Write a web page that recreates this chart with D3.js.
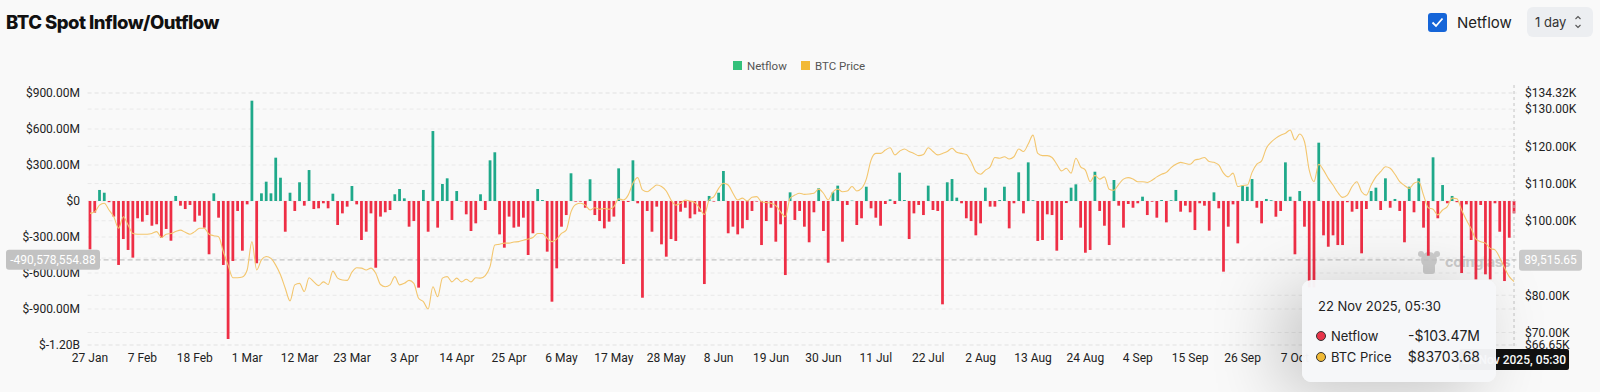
<!DOCTYPE html>
<html>
<head>
<meta charset="utf-8">
<script src="https://cdn.jsdelivr.net/npm/d3@7"></script>
<style>
  html, body { margin: 0; padding: 0; background: #f9f9f9; }
  body { width: 1600px; height: 392px; overflow: hidden; position: relative; font-family: Roboto, "Noto Sans", sans-serif; }
  #tip {
    position: absolute; left: 1302px; top: 280px; width: 194px; height: 102px;
    background: rgba(246, 247, 249, 0.97); border-radius: 9px;
    box-shadow: -20px 10px 70px rgba(0, 0, 0, 0.22);
    font-family: Inter, Roboto, sans-serif; color: #222; font-size: 13px;
  }
  #tip .date { position: absolute; left: 16px; top: 18px; }
  #tip .row { position: absolute; left: 14px; right: 16px; height: 18px; line-height: 18px; }
  #tip .dot { display: inline-block; width: 8px; height: 8px; border-radius: 50%; border: 1px solid #333; margin-right: 5px; vertical-align: 0px; }
  #tip .val { position: absolute; right: 0; top: 0; font-size: 14px; }
</style>
</head>
<body>
<script>
(function(){

    // categories: one bar per day, 27 Jan 2025 .. 22 Nov 2025
    var dates = d3.timeDay.range(new Date(2025, 0, 27), new Date(2025, 10, 23));

    // daily spot netflow, $ millions
    var netflow = [
        -403,-97,92,69,-10,-130,-533,-317,-408,-472,
        -144,-172,-117,-206,-194,-306,-233,-331,42,-39,
        -67,-33,-172,-122,-222,-444,64,-139,-533,-1150,
        -500,-83,-414,-28,836,-519,64,161,64,361,
        194,-256,69,-83,156,-39,258,-67,-61,-19,
        -61,61,-200,-103,-47,125,-28,-325,-256,-103,
        -556,-130,-94,-75,56,100,22,-214,-167,-722,
        92,-256,583,-222,142,189,-158,83,-3,-111,
        -250,-186,56,-75,339,406,-278,-389,-130,-222,
        -214,-139,-450,-269,100,8,-422,-839,-561,-214,
        -117,231,-5,-5,-56,181,-117,-167,-228,-172,
        -130,272,-525,-8,339,-19,-806,-83,-256,-47,
        -361,-464,-317,-333,-89,-56,-144,-111,-89,-692,
        42,-5,69,250,-269,-214,-278,-228,-158,-83,
        -5,-367,-167,-56,-339,-194,-617,72,-158,-83,
        -214,-344,-94,106,-250,-514,72,128,-339,-33,
        3,-200,-144,119,-61,-139,-206,-25,14,-25,
        236,8,-317,-103,-33,-117,128,-75,-83,-861,
        156,183,28,-19,-144,-167,-286,-186,111,-47,
        -47,8,119,-228,-19,239,-103,322,6,-333,
        -325,-111,-117,-414,-325,-17,111,139,-222,-431,
        -408,244,-83,-206,-367,175,-39,-222,-25,-56,
        -19,36,-117,-6,-139,8,-178,6,92,-89,
        -39,-94,-242,-19,-39,-247,72,-61,-589,-214,
        -28,-353,128,119,183,-56,-186,17,6,-131,
        -83,322,36,-444,83,-214,-720,-720,486,-286,
        -381,-286,-367,-367,-10,-89,-67,-436,-67,83,
        111,-75,189,-56,17,-83,-344,119,-94,189,
        -222,-456,364,-144,133,-19,42,-10,-600,-28,
        -325,-653,-33,-611,-653,-19,-256,-667,-306,-103.47
    ];

    // BTC price, $ thousands
    var price = [
        102.0,102.4,104.2,104.7,102.9,101.1,98.0,101.1,98.9,96.6,
        96.4,96.4,96.4,96.6,97.1,95.5,96.4,96.6,97.1,97.5,
        96.9,96.4,97.1,98.0,98.0,96.4,96.0,95.7,91.7,88.1,
        84.7,84.7,84.9,86.8,94.4,86.8,89.5,90.4,89.9,88.1,
        85.5,81.9,78.5,82.8,83.2,81.0,84.7,83.6,82.6,83.6,
        82.9,86.5,84.6,84.1,84.0,86.2,87.4,87.3,86.8,87.3,
        85.9,82.9,82.3,82.8,85.0,82.8,83.2,84.0,83.2,79.2,
        78.3,76.3,82.3,79.6,84.6,85.0,83.6,84.6,83.6,84.3,
        83.6,84.7,84.6,85.3,87.7,93.5,93.7,94.0,94.0,94.3,
        94.4,94.8,95.1,95.5,96.6,96.6,95.3,94.4,95.1,96.6,
        97.5,102.4,104.4,104.7,104.2,102.9,103.5,103.1,103.3,103.1,
        103.8,105.9,105.6,106.9,110.1,111.6,108.3,107.8,108.7,109.6,
        109.2,108.0,105.6,104.2,104.7,105.6,105.3,104.9,103.4,101.7,
        105.6,106.5,108.7,110.1,109.6,107.4,105.6,106.1,105.3,106.3,
        106.5,105.1,104.9,104.7,104.1,102.4,101.1,106.1,106.9,107.4,
        107.1,107.2,107.4,108.5,107.4,105.6,107.8,108.5,107.8,108.0,
        109.2,108.0,108.7,111.2,116.3,118.1,118.1,119.0,119.6,117.7,
        118.7,119.3,118.6,118.1,117.5,117.8,119.6,118.6,117.7,118.1,
        118.6,119.5,118.4,118.1,117.8,115.9,113.2,112.5,113.6,114.5,
        117.0,116.8,117.2,116.6,117.2,119.3,118.6,120.6,123.0,118.1,
        117.5,117.5,117.0,115.2,113.4,114.1,112.8,116.8,114.5,113.6,
        110.5,112.2,111.2,111.8,108.5,108.2,109.8,111.2,111.6,111.2,
        110.5,110.5,110.3,110.9,111.8,112.5,113.0,114.3,115.2,115.7,
        115.4,115.2,116.3,116.6,117.0,115.9,115.7,115.0,112.8,111.8,
        112.8,109.2,109.5,109.6,113.0,115.2,116.1,119.5,121.1,122.2,
        123.0,123.5,124.4,121.7,123.3,121.3,113.6,110.5,115.2,113.6,
        111.4,109.6,107.6,106.3,106.9,109.2,110.5,107.8,106.9,109.6,
        111.8,113.2,114.5,114.1,112.5,110.5,109.5,108.7,110.1,110.5,
        106.9,103.5,103.1,101.6,102.9,103.8,106.1,105.9,102.9,100.2,
        97.9,95.1,94.4,94.0,92.6,92.2,90.1,87.4,85.0,83.70368
    ];

    var leftTicks = [900, 600, 300, 0, -300, -600, -900, -1200];
    var leftTickLabels = ["$900.00M", "$600.00M", "$300.00M", "$0", "$-300.00M", "$-600.00M", "$-900.00M", "$-1.20B"];
    // $90.00K sits under the crosshair label, so only its grid line shows
    var rightGrid = [134.32, 130, 120, 110, 100, 90, 80, 70, 66.65];
    var rightTicks = [134.32, 130, 120, 110, 100, 80, 70, 66.65];
    var rightTickLabels = ["$134.32K", "$130.00K", "$120.00K", "$110.00K", "$100.00K", "$80.00K", "$70.00K", "$66.65K"];
    // ticks every 11 days; later ones are hidden by the tooltip
    var xTickLabels = ["27 Jan", "7 Feb", "18 Feb", "1 Mar", "12 Mar", "23 Mar", "3 Apr", "14 Apr", "25 Apr",
                       "6 May", "17 May", "28 May", "8 Jun", "19 Jun", "30 Jun", "11 Jul", "22 Jul", "2 Aug",
                       "13 Aug", "24 Aug", "4 Sep", "15 Sep", "26 Sep", "7 Oct"];

    var hoverIndex = 299;
    var crossNetflow = -490.57855488,
        crossLabelLeft = "-490,578,554.88",
        crossLabelRight = "89,515.65";

    var width = 1600,
        height = 392,
        plotLeft = 87.6,
        plotRight = 1516.4,
        plotTop = 93,
        plotBottom = 345;

    var data = dates.map(function(d, i) {
        return { date: d, netflow: netflow[i], price: price[i] };
    });

    var svg = d3.select("body")
        .append("svg")
        .attr("width", width)
        .attr("height", height)
        .style("position", "absolute")
        .style("left", 0)
        .style("top", 0);

    var x = d3.scaleBand()
        .domain(dates)
        .range([plotLeft, plotRight])
        .paddingInner(0.42)
        .paddingOuter(0.21);

    var yLeft = d3.scaleLinear()
        .domain([-1200, 900])
        .range([plotBottom, plotTop]);

    var yRight = d3.scaleLinear()
        .domain([66.65, 134.32])
        .range([plotBottom, plotTop]);

    var bw = x.bandwidth();
    var cx = function(d) { return x(d) + bw / 2; };

    // title
    svg.append("text")
        .attr("x", 6)
        .attr("y", 29)
        .style("font-family", "Inter, Roboto, sans-serif")
        .style("font-weight", 800)
        .style("font-size", "18.5px")
        .style("letter-spacing", "-0.5px")
        .style("fill", "#111")
        .text("BTC Spot Inflow/Outflow");

    // top right controls
    svg.append("rect")
        .attr("x", 1428).attr("y", 13)
        .attr("width", 19).attr("height", 19)
        .attr("rx", 3)
        .style("fill", "#1565d8");
    svg.append("path")
        .attr("d", "M1432.5,22.5 L1436,26 L1442.5,18.5")
        .style("fill", "none")
        .style("stroke", "#fff")
        .style("stroke-width", 1.8);
    svg.append("text")
        .attr("x", 1457).attr("y", 28)
        .style("font-family", "Inter, Roboto, sans-serif")
        .style("font-size", "15px")
        .style("fill", "#222")
        .text("Netflow");
    svg.append("rect")
        .attr("x", 1527).attr("y", 7)
        .attr("width", 66).attr("height", 30)
        .attr("rx", 6)
        .style("fill", "#eceef1");
    svg.append("text")
        .attr("x", 1535).attr("y", 27)
        .style("font-family", "Inter, Roboto, sans-serif")
        .style("font-size", "13px")
        .style("fill", "#333")
        .text("1 day");
    svg.append("path")
        .attr("d", "M1575.5,19 L1578,16.5 L1580.5,19 M1575.5,25 L1578,27.5 L1580.5,25")
        .style("fill", "none")
        .style("stroke", "#555")
        .style("stroke-width", 1.1);

    // legend
    var legend = [
        { name: "Netflow", color: "#34c17b", x: 733 },
        { name: "BTC Price", color: "#f2b935", x: 801 }
    ];
    var lg = svg.selectAll(".legend")
        .data(legend)
        .enter()
        .append("g")
        .attr("class", "legend")
        .attr("transform", function(d) { return "translate(" + d.x + ",61)"; });
    lg.append("rect")
        .attr("width", 9).attr("height", 9)
        .style("fill", function(d) { return d.color; });
    lg.append("text")
        .attr("x", 14).attr("y", 8.5)
        .style("font-size", "11.5px")
        .style("fill", "#555")
        .text(function(d) { return d.name; });

    // grid lines from both axes
    var grid = svg.append("g").attr("class", "grid");
    grid.selectAll(".gl")
        .data(leftTicks)
        .enter()
        .append("line")
        .attr("x1", plotLeft).attr("x2", plotRight)
        .attr("y1", function(d) { return yLeft(d); })
        .attr("y2", function(d) { return yLeft(d); })
        .style("stroke", "#e9e9e9")
        .style("stroke-dasharray", "4,3");
    grid.selectAll(".gr")
        .data(rightGrid)
        .enter()
        .append("line")
        .attr("x1", plotLeft).attr("x2", plotRight)
        .attr("y1", function(d) { return yRight(d); })
        .attr("y2", function(d) { return yRight(d); })
        .style("stroke", "#e9e9e9")
        .style("stroke-dasharray", "4,3");

    // watermark
    var wm = svg.append("g")
        .attr("transform", "translate(1418,262)")
        .style("fill", "#cdcdcd");
    wm.append("circle").attr("cx", 11).attr("cy", -2).attr("r", 8);
    wm.append("rect").attr("x", 5).attr("y", 2).attr("width", 12).attr("height", 10).attr("rx", 3);
    wm.append("circle").attr("cx", 3).attr("cy", -8).attr("r", 3);
    wm.append("circle").attr("cx", 19).attr("cy", -8).attr("r", 3);
    wm.append("text")
        .attr("x", 27).attr("y", 5)
        .style("font-family", "Inter, Roboto, sans-serif")
        .style("font-weight", 700)
        .style("font-size", "14.5px")
        .style("letter-spacing", "-0.3px")
        .text("coinglass");

    // crosshair horizontal line (behind marks)
    svg.append("line")
        .attr("x1", plotLeft).attr("x2", plotRight)
        .attr("y1", yLeft(crossNetflow)).attr("y2", yLeft(crossNetflow))
        .style("stroke", "#c4c4c4")
        .style("stroke-width", 1.2)
        .style("stroke-dasharray", "5,3");

    // bars
    svg.selectAll(".bars")
        .data(data)
        .enter()
        .append("rect")
        .attr("class", "bars")
        .attr("x", function(d) { return x(d.date); })
        .attr("width", bw)
        .attr("y", function(d) { return yLeft(Math.max(0, d.netflow)); })
        .attr("height", function(d) { return Math.abs(yLeft(d.netflow) - yLeft(0)); })
        .style("fill", function(d) { return d.netflow >= 0 ? "#1fa98a" : "#ee2e45"; });

    // price line
    var line = d3.line()
        .x(function(d) { return cx(d.date); })
        .y(function(d) { return yRight(d.price); })
        .curve(d3.curveMonotoneX);

    svg.append("path")
        .datum(data)
        .attr("d", line)
        .style("fill", "none")
        .style("stroke", "#f3c66e")
        .style("stroke-width", 1.1);

    // crosshair vertical line
    var hx = cx(dates[hoverIndex]);
    svg.append("line")
        .attr("x1", hx).attr("x2", hx)
        .attr("y1", plotTop - 8).attr("y2", plotBottom + 4)
        .style("stroke", "#c4c4c4")
        .style("stroke-dasharray", "3,3");

    // axes
    var axisLeft = d3.axisLeft(yLeft)
        .tickValues(leftTicks)
        .tickFormat(function(d, i) { return leftTickLabels[i]; })
        .tickSize(0)
        .tickPadding(0);
    svg.append("g")
        .attr("class", "axis")
        .attr("transform", "translate(80,0)")
        .call(axisLeft);

    var axisRight = d3.axisRight(yRight)
        .tickValues(rightTicks)
        .tickFormat(function(d, i) { return rightTickLabels[i]; })
        .tickSize(0)
        .tickPadding(0);
    svg.append("g")
        .attr("class", "axis")
        .attr("transform", "translate(1525,0)")
        .call(axisRight);

    var xTickDates = xTickLabels.map(function(d, i) { return dates[i * 11]; });
    var axisBottom = d3.axisBottom(x)
        .tickValues(xTickDates)
        .tickFormat(function(d, i) { return xTickLabels[i]; })
        .tickSize(0)
        .tickPadding(7);
    svg.append("g")
        .attr("class", "axis")
        .attr("transform", "translate(0,346)")
        .call(axisBottom);

    svg.selectAll(".axis .domain").remove();
    svg.selectAll(".axis text")
        .style("font-family", "Roboto, sans-serif")
        .style("font-size", "12px")
        .style("fill", "#222");

    // crosshair labels
    var cy = yLeft(crossNetflow);
    svg.append("rect")
        .attr("x", 6).attr("y", cy - 10)
        .attr("width", 94).attr("height", 20)
        .attr("rx", 3)
        .style("fill", "#c2c2c2");
    svg.append("text")
        .attr("x", 53).attr("y", cy + 4)
        .attr("text-anchor", "middle")
        .style("font-size", "12px")
        .style("fill", "#fff")
        .text(crossLabelLeft);
    svg.append("rect")
        .attr("x", 1519).attr("y", cy - 10)
        .attr("width", 63).attr("height", 21)
        .attr("rx", 3)
        .style("fill", "#cacaca");
    svg.append("text")
        .attr("x", 1550.5).attr("y", cy + 4.5)
        .attr("text-anchor", "middle")
        .style("font-size", "12px")
        .style("fill", "#fff")
        .text(crossLabelRight);

    // date label under crosshair
    svg.append("rect")
        .attr("x", hx - 55).attr("y", 349)
        .attr("width", 110).attr("height", 21)
        .attr("rx", 2)
        .style("fill", "#111");
    svg.append("text")
        .attr("x", hx).attr("y", 364)
        .attr("text-anchor", "middle")
        .style("font-size", "12px")
        .style("font-weight", 500)
        .style("fill", "#fff")
        .text("22 Nov 2025, 05:30");

    // tooltip
    var tip = d3.select("body").append("div").attr("id", "tip");
    tip.append("div").attr("class", "date").text("22 Nov 2025, 05:30");
    var rows = [
        { name: "Netflow", color: "#e8344a", value: "-$103.47M", top: 47 },
        { name: "BTC Price", color: "#f0b935", value: "$83703.68", top: 68 }
    ];
    var r = tip.selectAll(".row")
        .data(rows)
        .enter()
        .append("div")
        .attr("class", "row")
        .style("top", function(d) { return d.top + "px"; });
    r.append("span")
        .attr("class", "dot")
        .style("background", function(d) { return d.color; });
    r.append("span").text(function(d) { return d.name; });
    r.append("span").attr("class", "val").text(function(d) { return d.value; });

})();
</script>
</body>
</html>
